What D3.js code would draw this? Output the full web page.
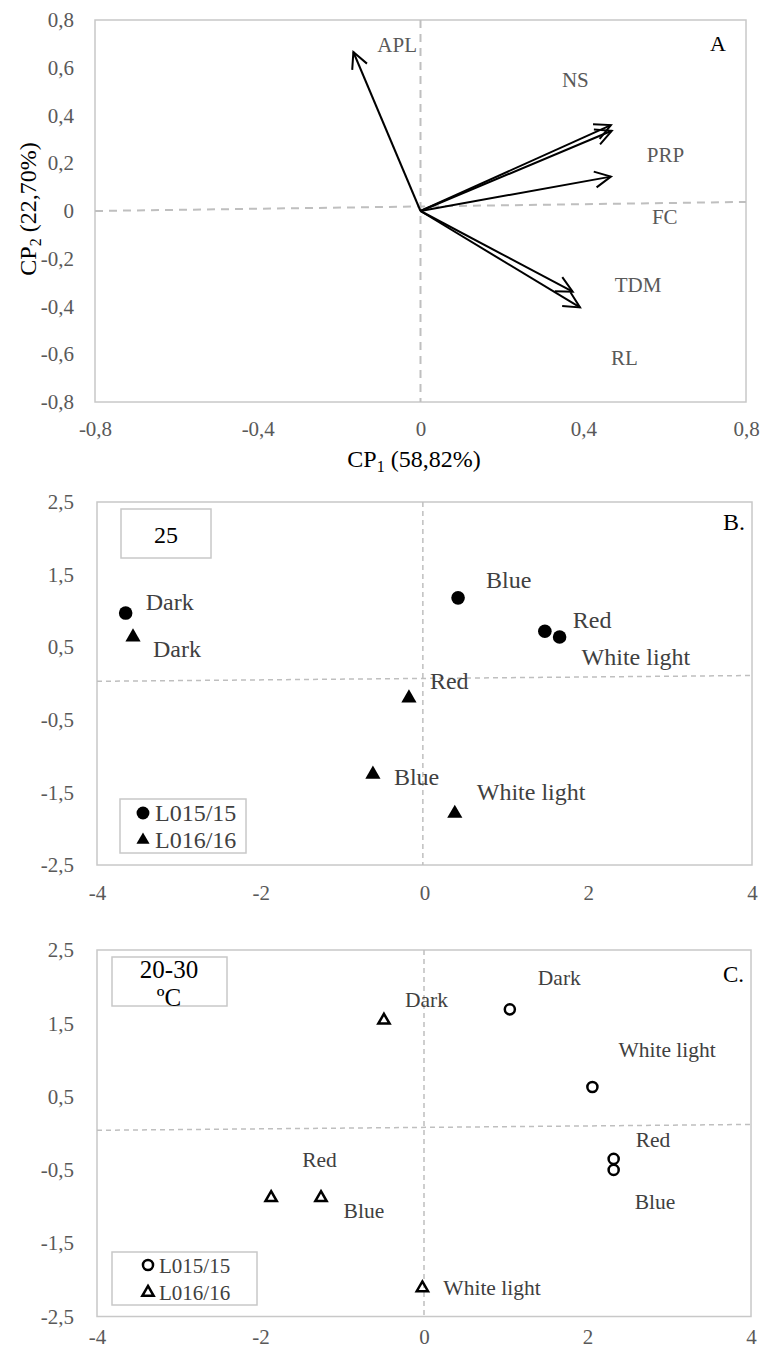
<!DOCTYPE html>
<html>
<head>
<meta charset="utf-8">
<script src="https://cdn.jsdelivr.net/npm/d3@7"></script>
<style>
  body { margin: 0; background: #fff; }
  svg text { font-family: "Liberation Serif", "Times New Roman", "DejaVu Serif", serif; }
</style>
</head>
<body>
<svg id="chart" width="760" height="1350"></svg>
<script>
// ---- panel A: variable loadings on CP1 / CP2 ----
const loadVars = ["APL", "NS", "PRP", "FC", "TDM", "RL"];
const loadCP1 = [-0.165, 0.468, 0.470, 0.468, 0.374, 0.392];
const loadCP2 = [0.666, 0.360, 0.336, 0.144, -0.338, -0.404];
const yTicksA = [-0.8, -0.6, -0.4, -0.2, 0, 0.2, 0.4, 0.6, 0.8];
const xTicksA = [-0.8, -0.4, 0, 0.4, 0.8];

// ---- panels B and C: treatment scores ----
const treatments = ["Dark", "Blue", "Red", "White light"];
const lineNames = ["L015/15", "L016/16"];
// panel B, 25 ºC
const b015x = [-3.65, 0.41, 1.47, 1.65];
const b015y = [0.97, 1.18, 0.72, 0.64];
const b016x = [-3.56, -0.63, -0.19, 0.37];
const b016y = [0.64, -1.25, -0.20, -1.79];
// panel C, 20-30 ºC
const c015x = [1.05, 2.32, 2.32, 2.06];
const c015y = [1.69, -0.50, -0.35, 0.63];
const c016x = [-0.49, -1.26, -1.87, -0.02];
const c016y = [1.54, -0.88, -0.88, -2.11];
const yTicksBC = [-2.5, -1.5, -0.5, 0.5, 1.5, 2.5];
const xTicksBC = [-4, -2, 0, 2, 4];

const svg = d3.select("#chart");
const tickColor = "#595959";
const frameColor = "#c8c8c8";

// excel style number, comma decimal and plain hyphen
const fmt1 = d => d === 0 ? "0" : (d < 0 ? "-" : "") + Math.abs(d).toFixed(1).replace(".", ",");
const fmt0 = d => (d < 0 ? "-" : "") + Math.abs(d);

// arrow head
svg.append("defs").append("marker")
    .attr("id", "arrowOpen")
    .attr("markerUnits", "userSpaceOnUse")
    .attr("viewBox", "-20 -12 24 24")
    .attr("markerWidth", 24)
    .attr("markerHeight", 24)
    .attr("refX", 0)
    .attr("refY", 0)
    .attr("orient", "auto")
  .append("path")
    .attr("d", "M-16,-8L0,0L-16,8")
    .attr("fill", "none")
    .attr("stroke", "#000")
    .attr("stroke-width", 2);

// frame + axes for one panel
function drawFrame(x, y, xTicks, yTicks, fmt, fontSize, padX, padY) {
    const [x0, x1] = x.range();
    const [y0, y1] = y.range();
    svg.append("rect")
        .attr("x", x0).attr("y", y1)
        .attr("width", x1 - x0).attr("height", y0 - y1)
        .attr("fill", "none")
        .attr("stroke", frameColor)
        .attr("stroke-width", 1.5);

    const gy = svg.append("g")
        .attr("transform", `translate(${x0},0)`)
        .call(d3.axisLeft(y).tickValues(yTicks).tickFormat(fmt).tickSize(0).tickPadding(padY));
    const gx = svg.append("g")
        .attr("transform", `translate(0,${y0})`)
        .call(d3.axisBottom(x).tickValues(xTicks).tickFormat(fmt).tickSize(0).tickPadding(padX));
    [gx, gy].forEach(g => {
        g.attr("font-family", null);
        g.select(".domain").remove();
        g.selectAll("text")
            .attr("fill", tickColor)
            .style("font-size", fontSize + "px");
    });
}

function dashLine(x, y, p, q, width, dash) {
    svg.append("line")
        .attr("x1", x(p[0])).attr("y1", y(p[1]))
        .attr("x2", x(q[0])).attr("y2", y(q[1]))
        .attr("stroke", "#bfbfbf")
        .attr("stroke-width", width)
        .attr("stroke-dasharray", dash);
}

// ================= panel A =================
const xA = d3.scaleLinear().domain([-0.8, 0.8]).range([95, 746]);
const yA = d3.scaleLinear().domain([-0.8, 0.8]).range([402, 20]);
drawFrame(xA, yA, xTicksA, yTicksA, fmt1, 21, 19, 21);
dashLine(xA, yA, [0, 0.8], [0, -0.8], 2, "8,6");
dashLine(xA, yA, [-0.8, 0], [0.8, 0.038], 2, "8,6");

const loadings = loadVars.map((v, i) => ({ name: v, x: loadCP1[i], y: loadCP2[i] }));
// label offsets (px) from arrow tip, as placed in the original
const labelOffA = { APL: [24, 0], NS: [-49, -38], PRP: [35, 31], FC: [41, 47], TDM: [42, 0], RL: [31, 58] };

svg.append("g").selectAll("line")
    .data(loadings)
    .join("line")
    .attr("x1", xA(0)).attr("y1", yA(0))
    .attr("x2", d => xA(d.x)).attr("y2", d => yA(d.y))
    .attr("stroke", "#000")
    .attr("stroke-width", 2)
    .attr("marker-end", "url(#arrowOpen)");

svg.append("g").selectAll("text")
    .data(loadings)
    .join("text")
    .attr("x", d => xA(d.x) + labelOffA[d.name][0])
    .attr("y", d => yA(d.y) + labelOffA[d.name][1])
    .attr("fill", "#595959")
    .style("font-size", "21px")
    .text(d => d.name);

svg.append("text").attr("x", 710).attr("y", 51)
    .style("font-size", "22px").attr("fill", "#000").text("A");

// axis titles
const tx = svg.append("text")
    .attr("x", 414).attr("y", 467)
    .attr("text-anchor", "middle")
    .style("font-size", "24px");
tx.append("tspan").text("CP");
tx.append("tspan").attr("dy", 5).style("font-size", "16px").text("1");
tx.append("tspan").attr("dy", -5).text(" (58,82%)");

const ty = svg.append("text")
    .attr("transform", "translate(36,209) rotate(-90)")
    .attr("text-anchor", "middle")
    .style("font-size", "24px");
ty.append("tspan").text("CP");
ty.append("tspan").attr("dy", 5).style("font-size", "16px").text("2");
ty.append("tspan").attr("dy", -5).text(" (22,70%)");

// ================= panels B and C =================
function scorePanel(opts) {
    const { x, y, series, filled, labelSize, refH, refV } = opts;
    drawFrame(x, y, xTicksBC, yTicksBC, d => Number.isInteger(d) ? fmt0(d) : fmt1(d), 21, opts.padX, 23);
    dashLine(x, y, refV[0], refV[1], 1.5, "5,4");
    dashLine(x, y, refH[0], refH[1], 1.5, "5,4");

    series.forEach(s => {
        const pts = treatments.map((t, i) => ({ t, x: s.xs[i], y: s.ys[i], off: s.off[i] }));
        svg.append("g").selectAll("path")
            .data(pts)
            .join("path")
            .attr("transform", d => `translate(${x(d.x)},${y(d.y)})`)
            .attr("d", d3.symbol().type(s.type).size(s.size))
            .attr("fill", filled ? "#000" : "none")
            .attr("stroke", filled ? "none" : "#000")
            .attr("stroke-width", 2.5);
        svg.append("g").selectAll("text")
            .data(pts)
            .join("text")
            .attr("x", d => x(d.x) + d.off[0])
            .attr("y", d => y(d.y) + d.off[1])
            .attr("fill", "#404040")
            .style("font-size", labelSize + "px")
            .text(d => d.t);
    });
}

const xB = d3.scaleLinear().domain([-4, 4]).range([97, 752]);
const yB = d3.scaleLinear().domain([-2.5, 2.5]).range([865, 502]);
scorePanel({
    x: xB, y: yB, filled: true, labelSize: 24, padX: 20,
    refV: [[-0.02, 2.5], [-0.02, -2.5]],
    refH: [[-4, 0.03], [4, 0.11]],
    series: [
        { xs: b015x, ys: b015y, type: d3.symbolCircle, size: 145,
          off: [[20, -3], [28, -10], [28, -3], [22, 28]] },
        { xs: b016x, ys: b016y, type: d3.symbolTriangle, size: 100,
          off: [[20, 20], [21, 11], [21, -9], [22, -13]] }
    ]
});

const xC = d3.scaleLinear().domain([-4, 4]).range([97, 751]);
const yC = d3.scaleLinear().domain([-2.5, 2.5]).range([1316.5, 950]);
scorePanel({
    x: xC, y: yC, filled: false, labelSize: 21.5, padX: 13,
    refV: [[0, 2.5], [0, -2.5]],
    refH: [[-4, 0.04], [4, 0.12]],
    series: [
        { xs: c015x, ys: c015y, type: d3.symbolCircle, size: 80,
          off: [[28, -24], [21, 39], [22, -12], [26, -30]] },
        { xs: c016x, ys: c016y, type: d3.symbolTriangle, size: 55,
          off: [[21, -13], [22.6, 20.6], [31, -31], [21, 7]] }
    ]
});

svg.append("text").attr("x", 723).attr("y", 530)
    .style("font-size", "24px").attr("fill", "#000").text("B.");
svg.append("text").attr("x", 723).attr("y", 982)
    .style("font-size", "23px").attr("fill", "#000").text("C.");

// temperature boxes
svg.append("rect").attr("x", 121).attr("y", 509).attr("width", 90).attr("height", 49)
    .attr("fill", "#fff").attr("stroke", frameColor).attr("stroke-width", 1.5);
svg.append("text").attr("x", 166).attr("y", 543).attr("text-anchor", "middle")
    .style("font-size", "24px").text("25");

svg.append("rect").attr("x", 112).attr("y", 957).attr("width", 115).attr("height", 49)
    .attr("fill", "#fff").attr("stroke", frameColor).attr("stroke-width", 1.5);
svg.append("text").attr("x", 169).attr("y", 978).attr("text-anchor", "middle")
    .style("font-size", "25px").text("20-30");
svg.append("text").attr("x", 169).attr("y", 1006).attr("text-anchor", "middle")
    .style("font-size", "25px").text("ºC");

// legends
function legend(x0, y0, w, h, items, filled, fontSize) {
    svg.append("rect").attr("x", x0).attr("y", y0).attr("width", w).attr("height", h)
        .attr("fill", "#fff").attr("stroke", frameColor).attr("stroke-width", 1.5);
    const g = svg.append("g").selectAll("g")
        .data(items)
        .join("g")
        .attr("transform", d => `translate(${d.cx},${d.cy})`);
    g.append("path")
        .attr("d", d => d3.symbol().type(d.type).size(d.size)())
        .attr("fill", filled ? "#000" : "none")
        .attr("stroke", filled ? "none" : "#000")
        .attr("stroke-width", 2.5);
    g.append("text")
        .attr("x", d => d.tx)
        .attr("y", 7.5)
        .attr("fill", "#404040")
        .style("font-size", fontSize + "px")
        .text(d => d.name);
}

legend(120, 799, 126, 54, [
    { name: lineNames[0], type: d3.symbolCircle, size: 130, cx: 143, cy: 813, tx: 12 },
    { name: lineNames[1], type: d3.symbolTriangle, size: 75, cx: 143, cy: 840, tx: 12 }
], true, 24);

legend(112, 1252, 145, 53, [
    { name: lineNames[0], type: d3.symbolCircle, size: 80, cx: 148, cy: 1265, tx: 11 },
    { name: lineNames[1], type: d3.symbolTriangle, size: 55, cx: 148, cy: 1292.5, tx: 11 }
], false, 21);
</script>
</body>
</html>
